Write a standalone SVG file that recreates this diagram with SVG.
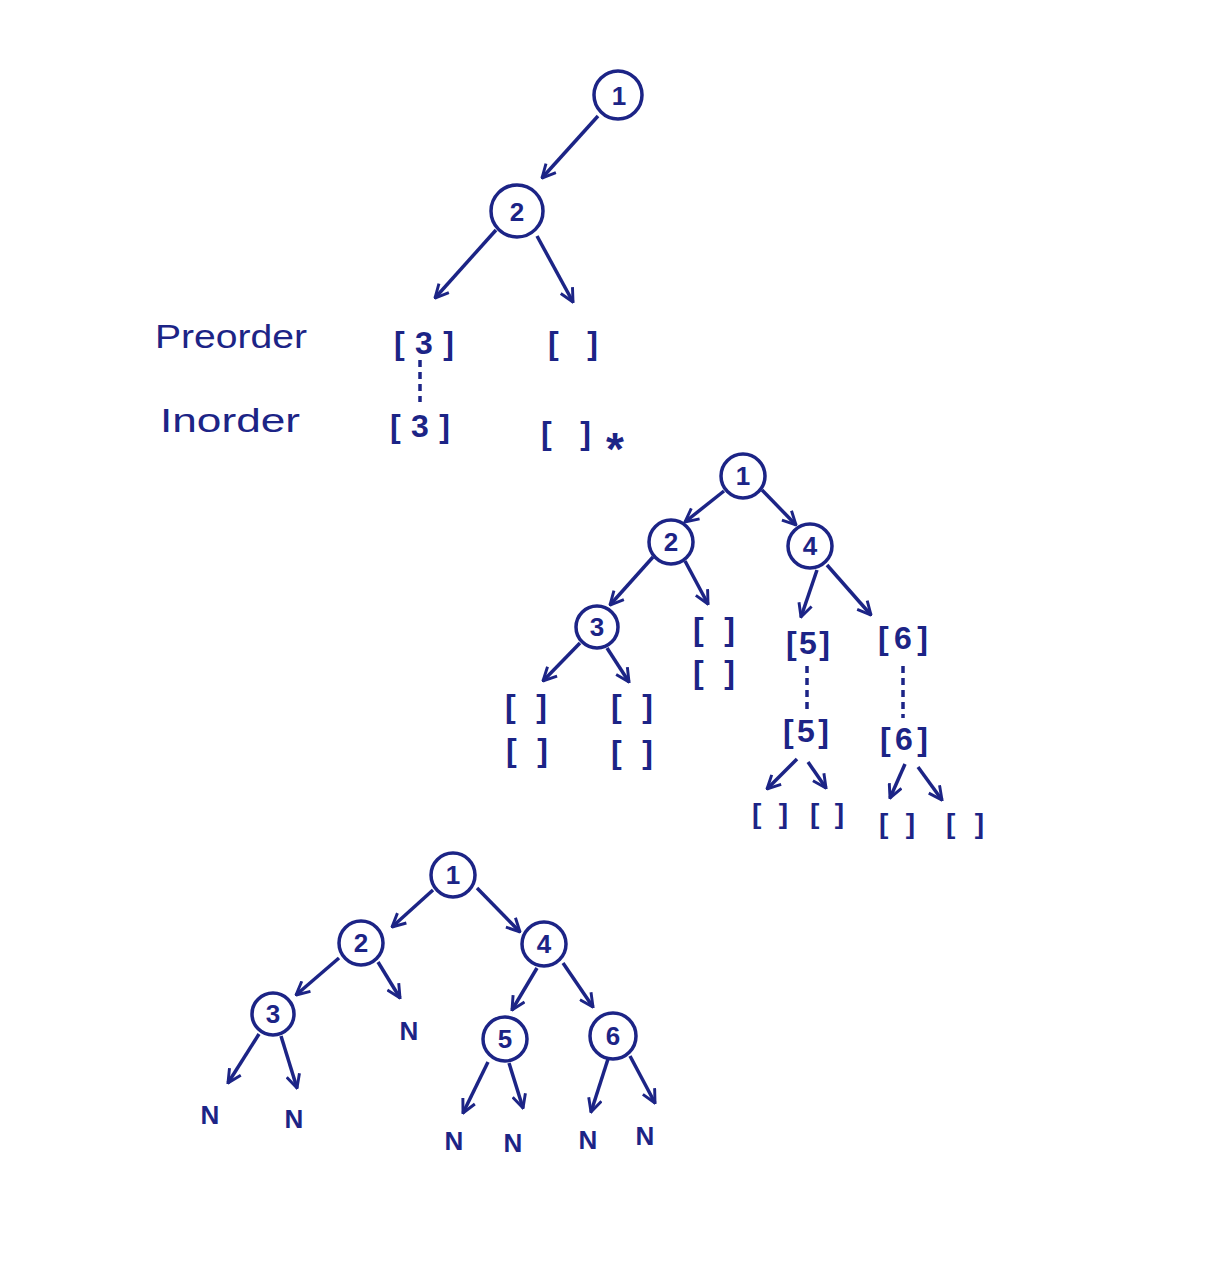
<svg xmlns="http://www.w3.org/2000/svg" width="1223" height="1280" viewBox="0 0 1223 1280">
<style>
.bg{fill:#ffffff}
.n circle{fill:none;stroke:#1c2486;stroke-width:3.5}
.t{font-family:"Liberation Sans",Arial,sans-serif;fill:#1c2486;text-anchor:middle;font-weight:bold}
.num{font-size:26px}
.br{font-size:32px}
.brs{font-size:28px}
.lab{font-size:34px;text-anchor:start;font-weight:normal}
.e{stroke:#1c2486;stroke-width:3.5;fill:none;marker-end:url(#ah)}
.d{stroke:#1c2486;stroke-width:3.5;fill:none;stroke-dasharray:7 5}
</style>
<defs>
<marker id="ah" markerUnits="userSpaceOnUse" viewBox="0 0 12 12" refX="11" refY="6" markerWidth="16" markerHeight="16" orient="auto">
<path d="M1,1 L11,6 L1,11" fill="none" stroke="#1c2486" stroke-width="2.2"/>
</marker>
</defs>
<rect class="bg" x="0" y="0" width="1223" height="1280"/>

<g id="connectors">
<line class="e" x1="598" y1="116" x2="542" y2="178"/>
<line class="e" x1="496" y1="230" x2="435" y2="298"/>
<line class="e" x1="537" y1="236" x2="573" y2="302"/>
<line class="d" x1="420" y1="360" x2="420" y2="402"/>
<line class="e" x1="724" y1="491" x2="685" y2="522"/>
<line class="e" x1="762" y1="490" x2="796" y2="525"/>
<line class="e" x1="653" y1="557" x2="610" y2="605"/>
<line class="e" x1="685" y1="561" x2="708" y2="604"/>
<line class="e" x1="817" y1="570" x2="801" y2="617"/>
<line class="e" x1="827" y1="565" x2="871" y2="615"/>
<line class="e" x1="580" y1="643" x2="543" y2="681"/>
<line class="e" x1="607" y1="648" x2="629" y2="682"/>
<line class="d" x1="807" y1="666" x2="807" y2="712"/>
<line class="d" x1="903" y1="666" x2="903" y2="718"/>
<line class="e" x1="797" y1="759" x2="767" y2="789"/>
<line class="e" x1="808" y1="762" x2="826" y2="788"/>
<line class="e" x1="905" y1="764" x2="890" y2="798"/>
<line class="e" x1="918" y1="767" x2="942" y2="800"/>
<line class="e" x1="433" y1="890" x2="392" y2="927"/>
<line class="e" x1="477" y1="888" x2="520" y2="932"/>
<line class="e" x1="339" y1="958" x2="296" y2="995"/>
<line class="e" x1="378" y1="962" x2="400" y2="998"/>
<line class="e" x1="537" y1="968" x2="512" y2="1010"/>
<line class="e" x1="563" y1="963" x2="593" y2="1007"/>
<line class="e" x1="259" y1="1034" x2="228" y2="1083"/>
<line class="e" x1="281" y1="1036" x2="297" y2="1088"/>
<line class="e" x1="488" y1="1062" x2="463" y2="1113"/>
<line class="e" x1="509" y1="1063" x2="523" y2="1108"/>
<line class="e" x1="608" y1="1059" x2="591" y2="1112"/>
<line class="e" x1="630" y1="1056" x2="655" y2="1103"/>
</g>

<g id="top-n1" class="n"><circle cx="618" cy="95" r="24"/><text class="t num" x="619" y="105">1</text></g>
<g id="top-n2" class="n"><circle cx="517" cy="211" r="26"/><text class="t num" x="517" y="221">2</text></g>
<g id="top-labels">
<text class="t lab" x="155" y="348" textLength="152" lengthAdjust="spacingAndGlyphs">Preorder</text>
<text class="t lab" x="160" y="432" textLength="140" lengthAdjust="spacingAndGlyphs">Inorder</text>
</g>
<g id="top-pre3"><text class="t br" x="424" y="354" textLength="60">[3]</text></g>
<g id="top-pre-empty"><text class="t br" x="573" y="354" textLength="50">[ ]</text></g>
<g id="top-in3"><text class="t br" x="420" y="437" textLength="60">[3]</text></g>
<g id="top-in-empty"><text class="t br" x="566" y="444" textLength="50">[ ]</text><text class="t" style="font-size:46px" x="615" y="465">*</text></g>

<g id="mid-n1" class="n"><circle cx="743" cy="476" r="22"/><text class="t num" x="743" y="485">1</text></g>
<g id="mid-n2" class="n"><circle cx="671" cy="542" r="22"/><text class="t num" x="671" y="551">2</text></g>
<g id="mid-n4" class="n"><circle cx="810" cy="546" r="22"/><text class="t num" x="810" y="555">4</text></g>
<g id="mid-n3" class="n"><circle cx="597" cy="627" r="21"/><text class="t num" x="597" y="636">3</text></g>
<g id="mid-2r"><text class="t br" x="714" y="640" textLength="42">[ ]</text><text class="t br" x="714" y="683" textLength="42">[ ]</text></g>
<g id="mid-3l"><text class="t br" x="526" y="717" textLength="42">[ ]</text><text class="t br" x="527" y="761" textLength="42">[ ]</text></g>
<g id="mid-3r"><text class="t br" x="632" y="717" textLength="42">[ ]</text><text class="t br" x="632" y="763" textLength="42">[ ]</text></g>
<g id="mid-5a"><text class="t br" x="808" y="654" textLength="44">[5]</text></g>
<g id="mid-6a"><text class="t br" x="903" y="649" textLength="50">[6]</text></g>
<g id="mid-5b"><text class="t br" x="806" y="742" textLength="46">[5]</text></g>
<g id="mid-6b"><text class="t br" x="904" y="750" textLength="48">[6]</text></g>
<g id="mid-5l"><text class="t brs" x="770" y="823" textLength="36">[ ]</text></g>
<g id="mid-5r"><text class="t brs" x="827" y="823" textLength="34">[ ]</text></g>
<g id="mid-6l"><text class="t brs" x="897" y="833" textLength="36">[ ]</text></g>
<g id="mid-6r"><text class="t brs" x="965" y="833" textLength="38">[ ]</text></g>

<g id="bot-n1" class="n"><circle cx="453" cy="875" r="22"/><text class="t num" x="453" y="884">1</text></g>
<g id="bot-n2" class="n"><circle cx="361" cy="943" r="22"/><text class="t num" x="361" y="952">2</text></g>
<g id="bot-n4" class="n"><circle cx="544" cy="944" r="22"/><text class="t num" x="544" y="953">4</text></g>
<g id="bot-n3" class="n"><circle cx="273" cy="1014" r="21"/><text class="t num" x="273" y="1023">3</text></g>
<g id="bot-n5" class="n"><circle cx="505" cy="1039" r="22"/><text class="t num" x="505" y="1048">5</text></g>
<g id="bot-n6" class="n"><circle cx="613" cy="1036" r="23"/><text class="t num" x="613" y="1045">6</text></g>
<g id="bot-N2r"><text class="t num" x="409" y="1040">N</text></g>
<g id="bot-N3l"><text class="t num" x="210" y="1124">N</text></g>
<g id="bot-N3r"><text class="t num" x="294" y="1128">N</text></g>
<g id="bot-N5l"><text class="t num" x="454" y="1150">N</text></g>
<g id="bot-N5r"><text class="t num" x="513" y="1152">N</text></g>
<g id="bot-N6l"><text class="t num" x="588" y="1149">N</text></g>
<g id="bot-N6r"><text class="t num" x="645" y="1145">N</text></g>
</svg>
